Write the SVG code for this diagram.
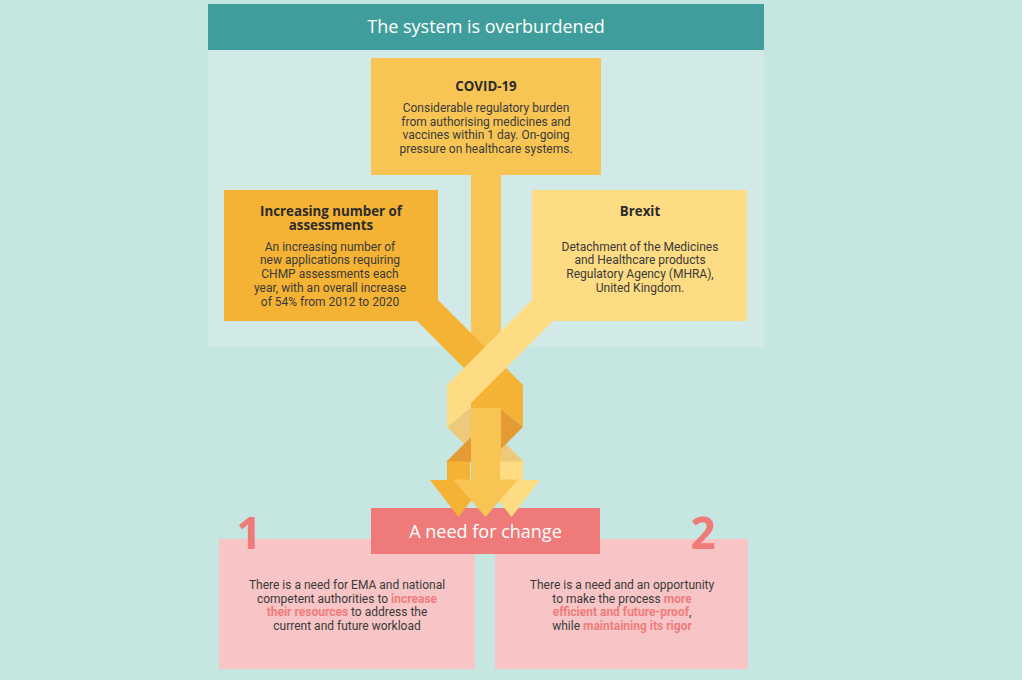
<svg xmlns="http://www.w3.org/2000/svg" width="1022" height="680" viewBox="0 0 1022 680">
<style>
.hd{font-family:"Open Sans","Liberation Sans",sans-serif;font-size:18px;font-weight:500;fill:#ffffff;text-anchor:middle}
.tt{font-family:"Open Sans","Liberation Sans",sans-serif;font-size:13.3px;font-weight:700;fill:#2b2b2b;text-anchor:middle}
.bd{font-family:Roboto,"Liberation Sans",sans-serif;font-size:12px;fill:#3a3a3a;text-anchor:middle}
.hl{font-weight:700;fill:#ef7c7c}
.num{font-family:"Open Sans","Liberation Sans",sans-serif;font-size:44px;font-weight:700;fill:#ee7b7a;text-anchor:middle}
.or{fill:#f5b335}.cv{fill:#f8c555}.ly{fill:#fddc83}.tan{fill:#efc97b}.dor{fill:#e59b33}
</style>
<rect x="0" y="0" width="1022" height="680" fill="#c5e6e1"/>
<rect x="208" y="4" width="556" height="343" fill="#d2eae7"/>
<g id="header">
<rect x="208" y="4" width="556" height="46" fill="#3f9e9b"/>
<text class="hd" x="486" y="33">The system is overburdened</text>
</g>
<g id="pink1">
<rect x="219" y="539" width="256" height="130" fill="#f7c5c5"/>
<text class="num" x="249" y="549">1</text>
<text class="bd" x="347" y="589">There is a need for EMA and national</text>
<text class="bd" x="347" y="602.5">competent authorities to <tspan class="hl">increase</tspan></text>
<text class="bd" x="347" y="616"><tspan class="hl">their resources</tspan> to address the</text>
<text class="bd" x="347" y="629.5">current and future workload</text>
</g>
<g id="pink2">
<rect x="495" y="539" width="253" height="130" fill="#f7c5c5"/>
<text class="num" x="703" y="549">2</text>
<text class="bd" x="622" y="589">There is a need and an opportunity</text>
<text class="bd" x="622" y="602.5">to make the process <tspan class="hl">more</tspan></text>
<text class="bd" x="622" y="616"><tspan class="hl">efficient and future-proof</tspan>,</text>
<text class="bd" x="622" y="629.5">while <tspan class="hl">maintaining its rigor</tspan></text>
</g>
<g id="change">
<rect x="371" y="508" width="229" height="46" fill="#ee7b7a"/>
<text class="hd" x="485.5" y="538">A need for change</text>
</g>
<g id="connectors">
<polygon class="tan" points="447,427 470,408 524,462 482,462"/>
<polygon class="dor" points="500,408 523,427 488,462 446,462"/>
<rect class="cv" x="471" y="170" width="30" height="310"/>
<polygon class="or" points="417,300 438,300 523,385 523,427 500,408 471,408 471,403 464,368 417,321"/>
<polygon class="ly" points="532,300 553,300 553,321 471,403 470,408 447,427 447,385"/>
<rect class="or" x="447" y="461.5" width="23" height="19"/>
<polygon class="or" points="430,480 487,480 458.5,517"/>
<rect class="ly" x="500" y="461.5" width="23" height="19"/>
<polygon class="ly" points="483,480 540,480 511.5,517"/>
<polygon class="cv" points="453,479.5 518,479.5 485.5,517"/>
</g>
<g id="covid">
<rect class="cv" x="371" y="58" width="230" height="117"/>
<text class="tt" x="486" y="91">COVID-19</text>
<text class="bd" x="486" y="112">Considerable regulatory burden</text>
<text class="bd" x="486" y="125.5">from authorising medicines and</text>
<text class="bd" x="486" y="139">vaccines within 1 day. On-going</text>
<text class="bd" x="486" y="152.5">pressure on healthcare systems.</text>
</g>
<g id="increasing">
<rect class="or" x="224" y="190" width="214" height="131"/>
<text class="tt" x="331" y="215.5">Increasing number of<tspan x="331" dy="14">assessments</tspan></text>
<text class="bd" x="330" y="250.5">An increasing number of</text>
<text class="bd" x="330" y="264.2">new applications requiring</text>
<text class="bd" x="330" y="278">CHMP assessments each</text>
<text class="bd" x="330" y="291.7">year, with an overall increase</text>
<text class="bd" x="330" y="305.5">of 54% from 2012 to 2020</text>
</g>
<g id="brexit">
<rect class="ly" x="532" y="190" width="215" height="131"/>
<text class="tt" x="640" y="216">Brexit</text>
<text class="bd" x="640" y="250.5">Detachment of the Medicines</text>
<text class="bd" x="640" y="264.2">and Healthcare products</text>
<text class="bd" x="640" y="278">Regulatory Agency (MHRA),</text>
<text class="bd" x="640" y="291.7">United Kingdom.</text>
</g>
</svg>
